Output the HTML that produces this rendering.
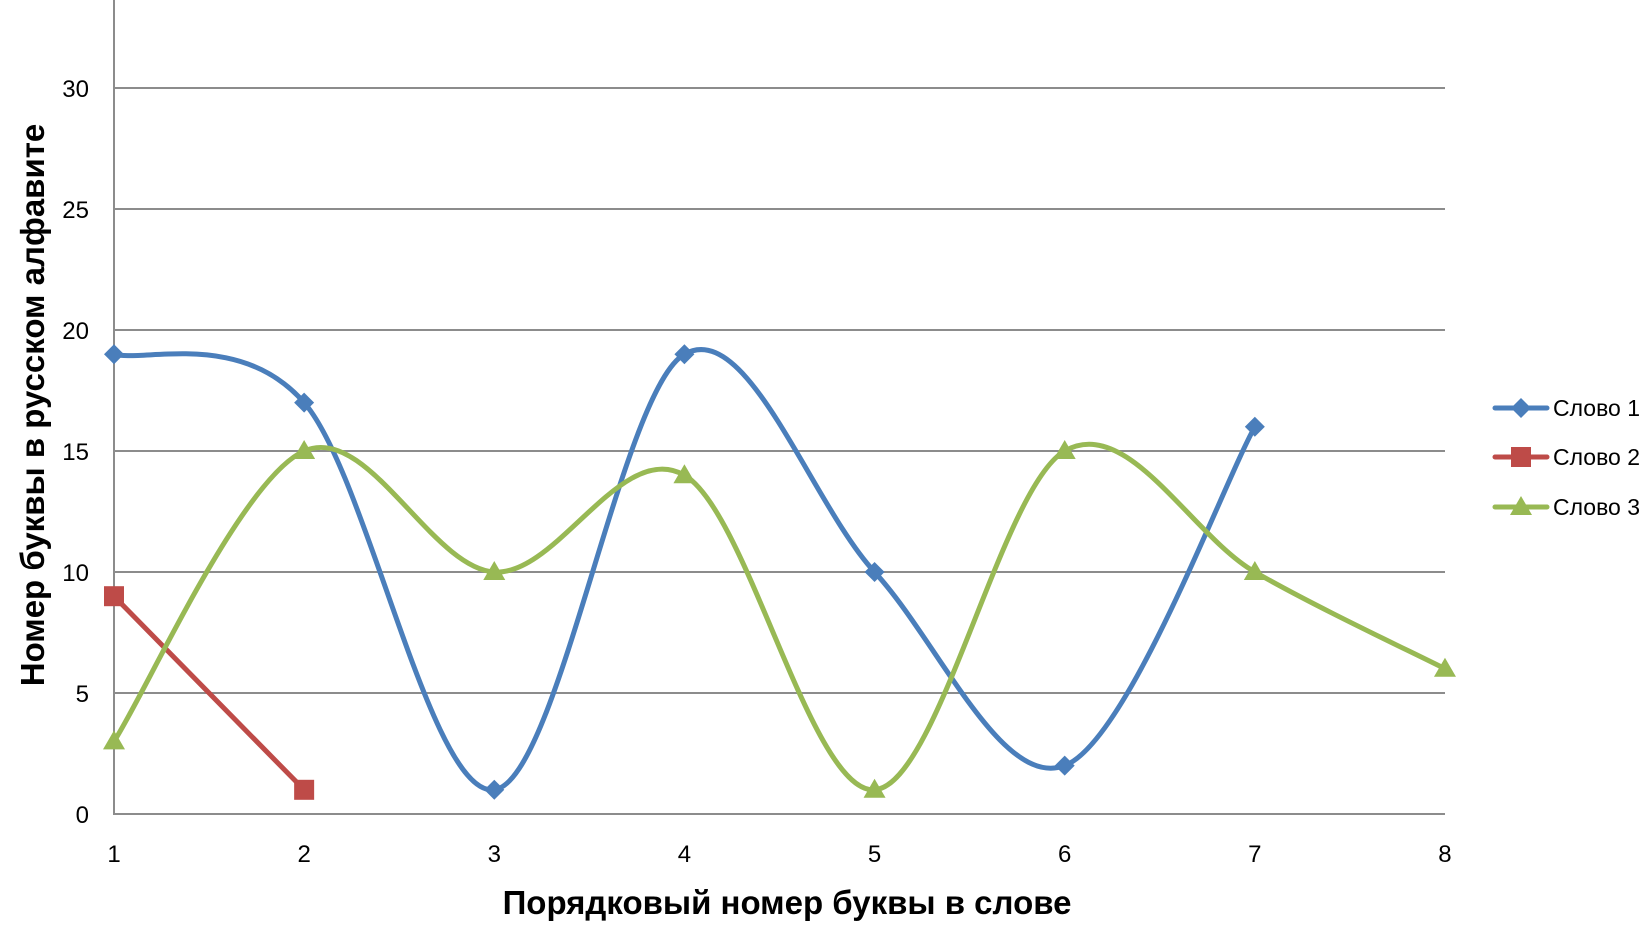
<!DOCTYPE html>
<html><head><meta charset="utf-8"><style>
html,body{margin:0;padding:0;background:#fff}
svg{display:block}
text{font-family:"Liberation Sans","DejaVu Sans",sans-serif;fill:#000}
</style></head><body>
<svg id="c" width="1650" height="934" viewBox="0 0 1650 934" xmlns="http://www.w3.org/2000/svg">
<g id="grid" stroke="#8c8c8c" stroke-width="2"></g>
<line x1="114" y1="0" x2="114" y2="815" stroke="#8c8c8c" stroke-width="2"/>
<g id="labels" font-size="24"></g>
<g id="series"></g>
<text x="787" y="914" font-size="33" font-weight="bold" text-anchor="middle">Порядковый номер буквы в слове</text>
<text transform="translate(44,405) rotate(-90)" font-size="33" font-weight="bold" text-anchor="middle">Номер буквы в русском алфавите</text>
<g font-size="23">
<line x1="1495" y1="408" x2="1547" y2="408" stroke="#4a7ebb" stroke-width="5" stroke-linecap="round"/>
<path d="M1521 398 L1531 408 L1521 418 L1511 408Z" fill="#4a7ebb"/>
<text x="1553" y="416">Слово 1</text>
<line x1="1495" y1="457" x2="1547" y2="457" stroke="#be4b48" stroke-width="5" stroke-linecap="round"/>
<rect x="1511" y="447" width="20" height="20" fill="#be4b48"/>
<text x="1553" y="465">Слово 2</text>
<line x1="1495" y1="507" x2="1547" y2="507" stroke="#98b954" stroke-width="5" stroke-linecap="round"/>
<path d="M1521 496 L1532 515 L1510 515Z" fill="#98b954"/>
<text x="1553" y="515">Слово 3</text>
</g>
</svg>
<script>
var NS="http://www.w3.org/2000/svg";
function X(i){return 114+(i-1)*190.14}
function Y(v){return 814-24.2*v}
function el(p,t,a,txt){var e=document.createElementNS(NS,t);for(var k in a)e.setAttribute(k,a[k]);if(txt!=null)e.textContent=txt;p.appendChild(e);return e}
var g=document.getElementById('grid'),L=document.getElementById('labels'),S=document.getElementById('series');
for(var v=0;v<=30;v+=5){var y=Y(v);el(g,'line',{x1:114,x2:1445,y1:y,y2:y});el(L,'text',{x:89,y:y+9,'text-anchor':'end'},String(v));}
for(var i=1;i<=8;i++)el(L,'text',{x:X(i),y:862,'text-anchor':'middle'},String(i));
function smooth(pts){var d='M'+pts[0][0]+' '+pts[0][1];for(var i=0;i<pts.length-1;i++){var p0=pts[i-1]||pts[i],p1=pts[i],p2=pts[i+1],p3=pts[i+2]||p2;
var c1=[p1[0]+(p2[0]-p0[0])/6,p1[1]+(p2[1]-p0[1])/6],c2=[p2[0]-(p3[0]-p1[0])/6,p2[1]-(p3[1]-p1[1])/6];
d+=' C'+c1[0]+' '+c1[1]+' '+c2[0]+' '+c2[1]+' '+p2[0]+' '+p2[1];}return d}
var data=[{c:'#4a7ebb',v:[19,17,1,19,10,2,16],m:'d'},{c:'#be4b48',v:[9,1],m:'s'},{c:'#98b954',v:[3,15,10,14,1,15,10,6],m:'t'}];
data.forEach(function(s){var pts=s.v.map(function(v,i){return [X(i+1),Y(v)]});
el(S,'path',{d:smooth(pts),fill:'none',stroke:s.c,'stroke-width':5,'stroke-linejoin':'round'});
pts.forEach(function(p){var x=p[0],y=p[1];
if(s.m=='d')el(S,'path',{d:'M'+x+' '+(y-10)+' L'+(x+10)+' '+y+' L'+x+' '+(y+10)+' L'+(x-10)+' '+y+'Z',fill:s.c});
else if(s.m=='s')el(S,'rect',{x:x-10,y:y-10,width:20,height:20,fill:s.c});
else el(S,'path',{d:'M'+x+' '+(y-11)+' L'+(x+11)+' '+(y+8)+' L'+(x-11)+' '+(y+8)+'Z',fill:s.c});});});
</script>
</body></html>
